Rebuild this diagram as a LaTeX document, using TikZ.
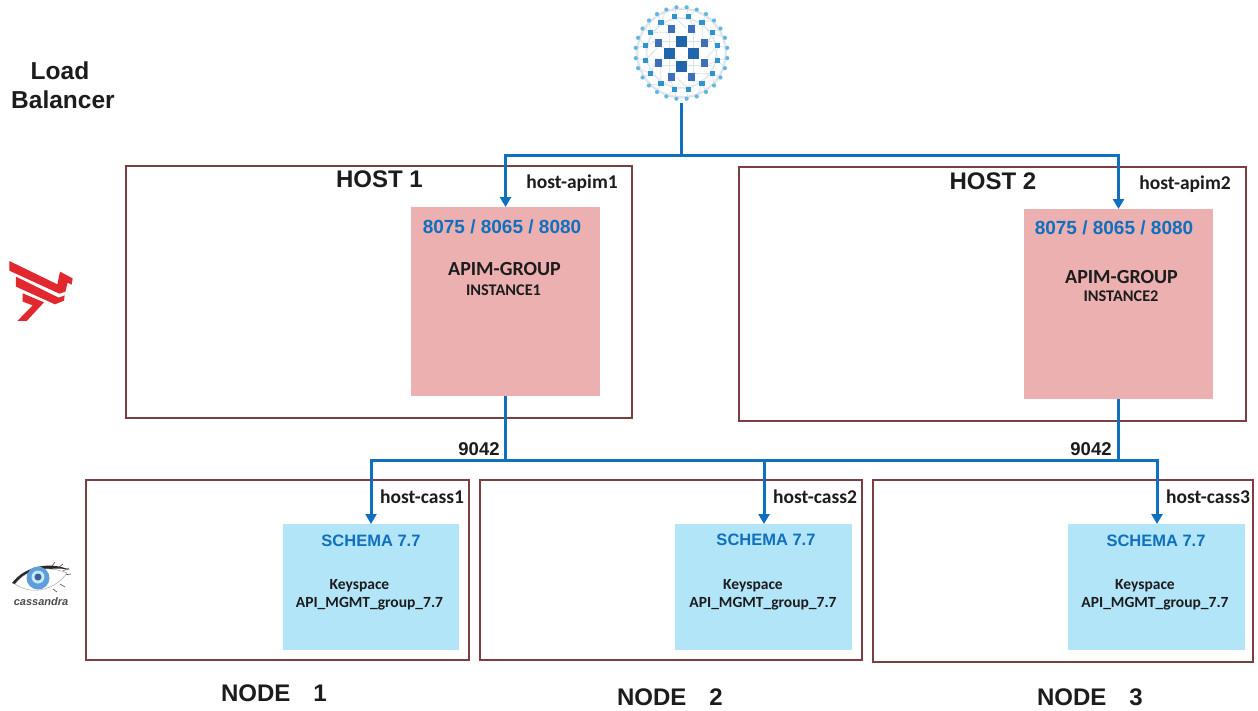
\documentclass[tikz,border=0pt]{standalone}
\usepackage{fontspec}
\setmainfont{Carlito}
\newfontfamily\arial{Liberation Sans}
\usetikzlibrary{arrows.meta,calc}
\definecolor{frame}{HTML}{7B3F42}
\definecolor{pinkbox}{HTML}{ECB0B0}
\definecolor{bluebox}{HTML}{B3E5F9}
\definecolor{wire}{HTML}{0F70BE}
\definecolor{txt}{HTML}{1C1C1C}
\definecolor{lbred}{HTML}{E0282E}
\definecolor{netline}{HTML}{DCE3E8}
\definecolor{netouter}{HTML}{62B8E2}
\definecolor{netring}{HTML}{2F93D0}
\definecolor{netmid}{HTML}{3F6FB8}
\definecolor{netcore}{HTML}{1F66AD}
\tikzset{
 hostbox/.style={draw=frame,line width=1.8pt,inner sep=0pt,outer sep=0pt,anchor=north west},
 fillbox/.style={inner sep=0pt,outer sep=0pt,anchor=north west},
 wireline/.style={draw=wire,line width=3pt},
 wirearrow/.style={wireline,-{Triangle[length=10pt,width=11pt]}},
 bigtitle/.style={font=\arial\bfseries\fontsize{24}{26}\selectfont,text=txt,inner sep=0pt},
 nodetitle/.style={font=\arial\bfseries\fontsize{24}{26}\selectfont,text=txt,inner sep=0pt},
 hostlabel/.style={font=\bfseries\fontsize{19.5}{22}\selectfont,text=txt,inner sep=0pt},
 portlabel/.style={font=\arial\bfseries\fontsize{19}{22}\selectfont,text=wire,inner sep=0pt},
 schemalabel/.style={font=\arial\bfseries\fontsize{16.5}{20}\selectfont,text=wire,inner sep=0pt},
 grouplabel/.style={font=\bfseries\fontsize{20}{22}\selectfont,text=txt,inner sep=0pt},
 instlabel/.style={font=\bfseries\fontsize{16.3}{18}\selectfont,text=txt,inner sep=0pt},
 keylabel/.style={font=\bfseries\fontsize{15.5}{18}\selectfont,text=txt,inner sep=0pt},
 numlabel/.style={font=\arial\bfseries\fontsize{18.5}{20}\selectfont,text=txt,inner sep=0pt},
 lblabel/.style={font=\arial\bfseries\fontsize{24.5}{26}\selectfont,text=txt,inner sep=0pt},
}
\begin{document}
\begin{tikzpicture}[x=1pt,y=-1pt]
\useasboundingbox (0,0) rectangle (1258,710);
\fill[white] (0,0) rectangle (1258,710);

% network logo
\begin{scope}[shift={(681.5,53)}]
 \foreach \i in {0,...,27}{
  \pgfmathsetmacro\a{6.43+12.857*\i}
  \pgfmathsetmacro\b{11.25+22.5*floor(\i*16/28)}
  \draw[netline,line width=.8pt] (\a:46) -- (\b:37);
  \draw[netline,line width=.8pt] (\a:46) -- ({\a+38}:46);
 }
 \foreach \i in {0,...,15}{
  \pgfmathsetmacro\b{11.25+22.5*\i}
  \draw[netline,line width=.8pt] (\b:37) -- ({\b+45}:37);
  \draw[netline,line width=.8pt] (\b:37) -- ({\b+22.5}:25);
 }
 \draw[netline,line width=.8pt] (-12,-30) -- (-12,30) (12,-30) -- (12,30) (-30,-12) -- (30,-12) (-30,12) -- (30,12);
 \foreach \i in {0,...,27}{\fill[netouter] ({6.43+12.857*\i}:46) circle (2.1);}
 \foreach \i in {0,...,15}{\pgfmathsetmacro\b{11.25+22.5*\i}\fill[netring] ($(\b:37)+(-2.7,-2.7)$) rectangle ++(5.4,5.4);}
 \foreach \p/\q in {10/24,-10/24,10/-24,-10/-24,23/10,-23/10,23/-10,-23/-10}{\fill[netmid] (\p-3.7,\q-3.7) rectangle ++(7.4,7.4);}
 \foreach \p/\q in {0/-12,0/13,-12/0,12/0}{\fill[netcore] (\p-5.5,\q-5.5) rectangle ++(11,11);}
\end{scope}
\coordinate (lb) at (681.5,103);

% labels top left
\node[lblabel] (lb1) at (60,71) {Load};
\node[lblabel] (lb2) at (63,100) {Balancer};

% red logo
\begin{scope}[shift={(0,250)},x=.3333pt,y=-.3333pt]
 \fill[lbred] (28,33) -- (172,103) -- (180,65) -- (218,85) -- (215,104) -- (203,98) -- (196,125) -- (178,131) -- (28,62) -- cycle;
 \fill[lbred] (48,80) -- (176,143) -- (194,136) -- (192,152) -- (165,163) -- (48,110) -- cycle;
 \fill[lbred] (68,130) -- (132,157) -- (80,213) -- (52,213) -- (98,166) -- (68,155) -- cycle;
\end{scope}

% cassandra logo
\begin{scope}
 \fill[black!85] (12,583) .. controls (25,566) and (50,561) .. (70,570) .. controls (55,566) and (30,570) .. (15,584) -- cycle;
 \foreach \x/\y/\u/\v in {52/566/55/562,58/568/63/564,63/571/69/568,64/575/71/574,60/584/65/587,53/589/57/592}{\draw[black!70,line width=.6pt] (\x,\y) -- (\u,\v);}
 \fill[white,draw=black!40,line width=.4pt] (15,584) .. controls (28,567) and (50,566) .. (67,573) .. controls (55,590) and (32,596) .. (15,584) -- cycle;
 \fill[cyan!60!blue!65!white] (38,578) circle (11.5);
 \fill[cyan!25!white] (38,577) circle (6.5);
 \fill[cyan!40!blue!70!black] (38,577) circle (3.5);
 \node[font=\arial\bfseries\itshape\fontsize{11}{12}\selectfont,text=black!70,inner sep=0pt] (casslogo) at (41,602) {cassandra};
\end{scope}

% host frames
\node[hostbox,minimum width=506pt,minimum height=252pt] (host1) at (126,166) {};
\node[hostbox,minimum width=507pt,minimum height=254pt] (host2) at (739,167) {};
\node[bigtitle] (host1t) at (379.5,179) {HOST 1};
\node[bigtitle] (host2t) at (993,181) {HOST 2};
\node[hostlabel] (h1l) at (572,183) {host-apim1};
\node[hostlabel] (h2l) at (1185,184) {host-apim2};

% APIM boxes
\node[fillbox,fill=pinkbox,minimum width=189pt,minimum height=189pt] (apim1) at (411,207) {};
\node[fillbox,fill=pinkbox,minimum width=189pt,minimum height=190pt] (apim2) at (1024,209) {};
\node[portlabel] (p1) at (502,227) {8075 / 8065 / 8080};
\node[portlabel] (p2) at (1114,228) {8075 / 8065 / 8080};
\node[grouplabel] (g1) at (504.5,269) {APIM-GROUP};
\node[grouplabel] (g2) at (1121.5,277) {APIM-GROUP};
\node[instlabel] (i1) at (503.5,290) {INSTANCE1};
\node[instlabel] (i2) at (1121,296) {INSTANCE2};

% cassandra node frames
\node[hostbox,minimum width=383pt,minimum height=180pt] (node1) at (86,480) {};
\node[hostbox,minimum width=382pt,minimum height=180pt] (node2) at (480,480) {};
\node[hostbox,minimum width=380pt,minimum height=182pt] (node3) at (873,480) {};
\node[hostlabel] (c1l) at (422,497) {host-cass1};
\node[hostlabel] (c2l) at (815,497) {host-cass2};
\node[hostlabel] (c3l) at (1208,497) {host-cass3};

% schema boxes
\node[fillbox,fill=bluebox,minimum width=176pt,minimum height=126pt] (sch1) at (283,524) {};
\node[fillbox,fill=bluebox,minimum width=177pt,minimum height=126pt] (sch2) at (675,524) {};
\node[fillbox,fill=bluebox,minimum width=177pt,minimum height=126pt] (sch3) at (1068,524) {};
\node[schemalabel] (s1) at (371,541) {SCHEMA 7.7};
\node[schemalabel] (s2) at (766,540) {SCHEMA 7.7};
\node[schemalabel] (s3) at (1156,541) {SCHEMA 7.7};
\node[keylabel] (k1) at (359.5,586) {Keyspace};
\node[keylabel] (k2) at (753,586) {Keyspace};
\node[keylabel] (k3) at (1145,586) {Keyspace};
\node[keylabel] (a1) at (369.5,604) {API\_MGMT\_group\_7.7};
\node[keylabel] (a2) at (763,604) {API\_MGMT\_group\_7.7};
\node[keylabel] (a3) at (1155,604) {API\_MGMT\_group\_7.7};

% node titles
\node[nodetitle] (n1) at (274,693) {NODE\hspace{23pt}1};
\node[nodetitle] (n2) at (670,697) {NODE\hspace{23pt}2};
\node[nodetitle] (n3) at (1090,697) {NODE\hspace{23pt}3};

% port numbers
\node[numlabel] (q1) at (479,449) {9042};
\node[numlabel] (q2) at (1091,449) {9042};

% connectors
\coordinate (topbus) at (681.5,155);
\coordinate (lowmid) at (764,460);
\draw[wireline,line width=3.6pt] (lb) -- (topbus);
\draw[wirearrow] (topbus) -| (apim1.north);
\draw[wirearrow] (topbus) -| (apim2.north);
\coordinate (lowbus1) at (apim1.south |- lowmid);
\coordinate (lowbus2) at (apim2.south |- lowmid);
\draw[wireline] (apim1.south) -- (lowbus1);
\draw[wireline] (apim2.south) -- (lowbus2);
\draw[wireline] (lowbus1) -- (lowbus2);
\coordinate (drop1) at (371,524);
\coordinate (drop3) at (1157,524);
\draw[wirearrow] (lowbus1) -| (drop1);
\draw[wirearrow] (lowmid) -- (lowmid |- sch2.north);
\draw[wirearrow] (lowbus2) -| (drop3);
\end{tikzpicture}
\end{document}
